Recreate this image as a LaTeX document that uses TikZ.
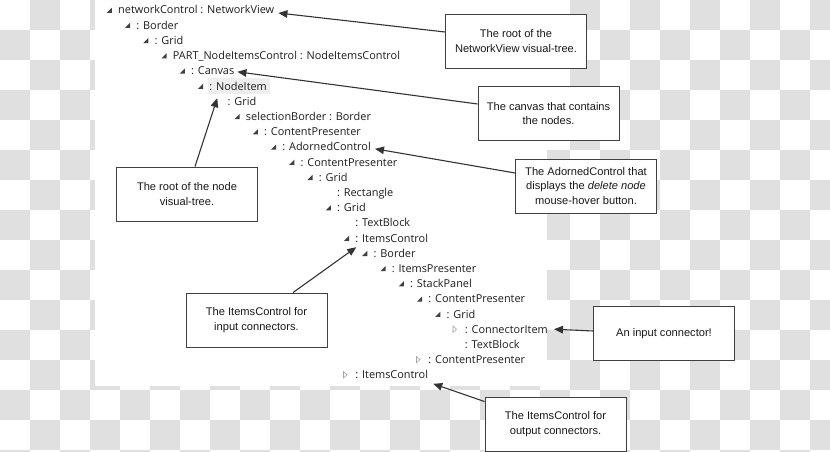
\documentclass[tikz,border=0pt]{standalone}
\usepackage{fontspec}
\setmainfont{Liberation Sans}
\newfontfamily\treefont{Open Sans}
\usepackage{xcolor}
\usetikzlibrary{arrows.meta, positioning}
\definecolor{chk}{RGB}{224,224,224}
\definecolor{hl}{RGB}{238,238,238}
\definecolor{ink}{RGB}{30,30,30}

\begin{document}
\begin{tikzpicture}[x=1pt, y=-1pt,
    item/.style={anchor=west, inner sep=0pt, text height=8pt, text depth=0pt,
      font=\treefont\fontsize{10.9}{12}\selectfont, text=ink},
    note/.style={draw=black!75, fill=white, line width=0.9pt, minimum width=141pt,
      minimum height=54pt, align=center, text=black!90,
      font=\fontsize{11.1}{14.5}\selectfont},
    callout/.style={draw=black!80, line width=1.1pt, -{Triangle[length=9pt,width=7.5pt]}},
    expd/.pic={\fill[black!75] (2.8,-2.3) -- (2.8,2.8) -- (-2.3,2.8) -- cycle;},
    coll/.pic={\draw[black!35, line width=0.6pt] (-1.8,-3.2) -- (1.8,0) -- (-1.8,3.2) -- cycle;}]
    \useasboundingbox (0,0) rectangle (830,452);

    % Hintergrund (Schachbrett)
    \begin{scope}
    \clip (0,0) rectangle (830,452);
    \foreach \i in {0,...,27}
      \foreach \j in {0,...,15}{
        \pgfmathtruncatemacro\odd{mod(\i+\j,2)}
        \ifnum\odd=1 \fill[chk] (30*\i,30*\j) rectangle ++(30,30); \fi
      }
    \end{scope}
    \fill[white] (95,0) rectangle (547,386);
    \fill[hl] (208,78) rectangle (270,94);

    % Baum
    \node[item] (root) at (118,10) {networkControl : NetworkView};
    \node[item] (border) at (136.25,25.2) {: Border};
    \node[item] (grid) at (154.5,40.4) {: Grid};
    \node[item] (part) at (172.75,55.6) {PART\_NodeItemsControl : NodeItemsControl};
    \node[item] (canvas) at (191,70.8) {: Canvas};
    \node[item] (nodeitem) at (209.25,86) {: NodeItem};
    \node[item] (grida) at (227.5,101.2) {: Grid};
    \node[item] (selborder) at (245.75,116.4) {selectionBorder : Border};
    \node[item] (cpa) at (264,131.6) {: ContentPresenter};
    \node[item] (adorned) at (282.25,146.8) {: AdornedControl};
    \node[item] (cpb) at (300.5,162) {: ContentPresenter};
    \node[item] (gridb) at (318.75,177.2) {: Grid};
    \node[item] (rect) at (337,192.4) {: Rectangle};
    \node[item] (gridc) at (337,207.6) {: Grid};
    \node[item] (textblock) at (355.25,222.8) {: TextBlock};
    \node[item] (itemsin) at (355.25,238) {: ItemsControl};
    \node[item] (borderb) at (373.5,253.2) {: Border};
    \node[item] (itemspres) at (391.75,268.4) {: ItemsPresenter};
    \node[item] (stack) at (410,283.6) {: StackPanel};
    \node[item] (cpc) at (428.25,298.8) {: ContentPresenter};
    \node[item] (gridd) at (446.5,314) {: Grid};
    \node[item] (connitem) at (464.75,329.2) {: ConnectorItem};
    \node[item] (textblockb) at (464.75,344.4) {: TextBlock};
    \node[item] (cpd) at (428.25,359.6) {: ContentPresenter};
    \node[item] (itemsout) at (355.25,374.8) {: ItemsControl};

    \foreach \n in {root,border,grid,part,canvas,nodeitem,selborder,cpa,adorned,
      cpb,gridb,gridc,itemsin,borderb,itemspres,stack,cpc,gridd}
      \pic at ([xshift=-9pt]\n.west) {expd};
    \foreach \n in {connitem,cpd,itemsout}
      \pic at ([xshift=-10pt]\n.west) {coll};

    % Hinweise
    \node[note] (rootnote) at (516,41) {The root of the\\NetworkView visual-tree.};
    \node[note] (canvasnote) at (548.5,113.5) {The canvas that contains\\the nodes.};
    \node[note] (nodenote) at (187,194) {The root of the node\\visual-tree.};
    \node[note] (adornednote) at (586,186) {The AdornedControl that\\displays the \textit{delete node}\\mouse-hover button.};
    \node[note] (innote) at (256.5,320) {The ItemsControl for\\input connectors.};
    \node[note] (connnote) at (664,333.5) {An input connector!};
    \node[note] (outnote) at (555.5,424) {The ItemsControl for\\output connectors.};

    \draw[callout] ([yshift=9pt]rootnote.west) -- ([xshift=4pt,yshift=-3pt]root.east);
    \draw[callout] ([yshift=9.5pt]canvasnote.west) -- ([xshift=3pt,yshift=-1pt]canvas.east);
    \draw[callout] ([xshift=8pt]nodenote.north) -- ([xshift=8pt,yshift=-8pt]nodeitem.south west);
    \draw[callout] ([yshift=13pt]adornednote.west) -- ([xshift=4pt,yshift=-2pt]adorned.east);
    \draw[callout] ([xshift=36.5pt]innote.north) -- ([xshift=1pt,yshift=-5pt]itemsin.south west);
    \draw[callout] ([yshift=2.5pt]connnote.west) -- ([xshift=6pt]connitem.east);
    \draw[callout] ([yshift=-5pt]outnote.north west) -- ([xshift=5pt,yshift=-9pt]itemsout.east);
\end{tikzpicture}
\end{document}
